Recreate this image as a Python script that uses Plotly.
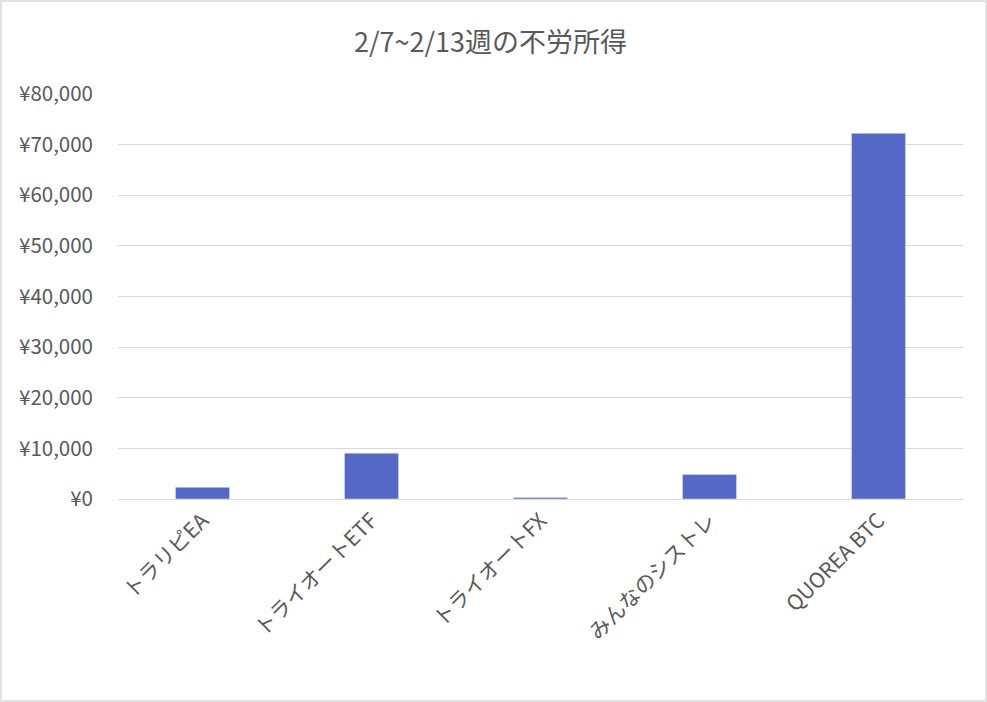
import plotly.graph_objects as go

categories = ["トラリピEA", "トライオートETF", "トライオートFX", "みんなのシストレ", "QUOREA BTC"]
income = [2310, 9050, 280, 4860, 72250]

title_text = "2/7~2/13週の不労所得"

W, H = 987, 702
L, R, T, B = 118, 24, 94, 203

fig = go.Figure()
fig.add_trace(go.Bar(
    x=categories,
    y=income,
    marker=dict(color="#5568C6"),
))

fig.update_layout(
    width=W, height=H,
    margin=dict(l=L, r=R, t=T, b=B),
    paper_bgcolor="white",
    plot_bgcolor="white",
    font=dict(family="Noto Sans CJK JP", color="#595959", size=18),
    title=dict(text=title_text, x=0.497, xanchor="center", y=0.939, yanchor="middle",
               font=dict(size=27, color="#595959")),
    bargap=0.68,
    showlegend=False,
)
fig.update_xaxes(
    tickangle=-45,
    showgrid=False,
    showline=True, linecolor="#d9d9d9", linewidth=1,
    ticks="",
    automargin=False,
    tickfont=dict(size=21, color="#595959"),
)
fig.update_yaxes(
    range=[0, 80000],
    dtick=10000,
    tickprefix="¥",
    tickformat=",",
    showgrid=True, gridcolor="#d9d9d9", gridwidth=1,
    zeroline=False,
    ticks="",
    ticklabelstandoff=24,
    automargin=False,
    tickfont=dict(size=20.5, color="#595959"),
)

# light border around the whole chart
fig.add_shape(
    type="rect", xref="paper", yref="paper",
    x0=-(L - 1) / (W - L - R), x1=1 + (R - 1) / (W - L - R),
    y0=-(B - 1) / (H - T - B), y1=1 + (T - 1) / (H - T - B),
    line=dict(color="#d9d9d9", width=1.5),
    fillcolor="rgba(0,0,0,0)",
    layer="below",
)

fig.write_html("out.html", config={"displayModeBar": False},
               post_script="document.body.style.margin='0';")
